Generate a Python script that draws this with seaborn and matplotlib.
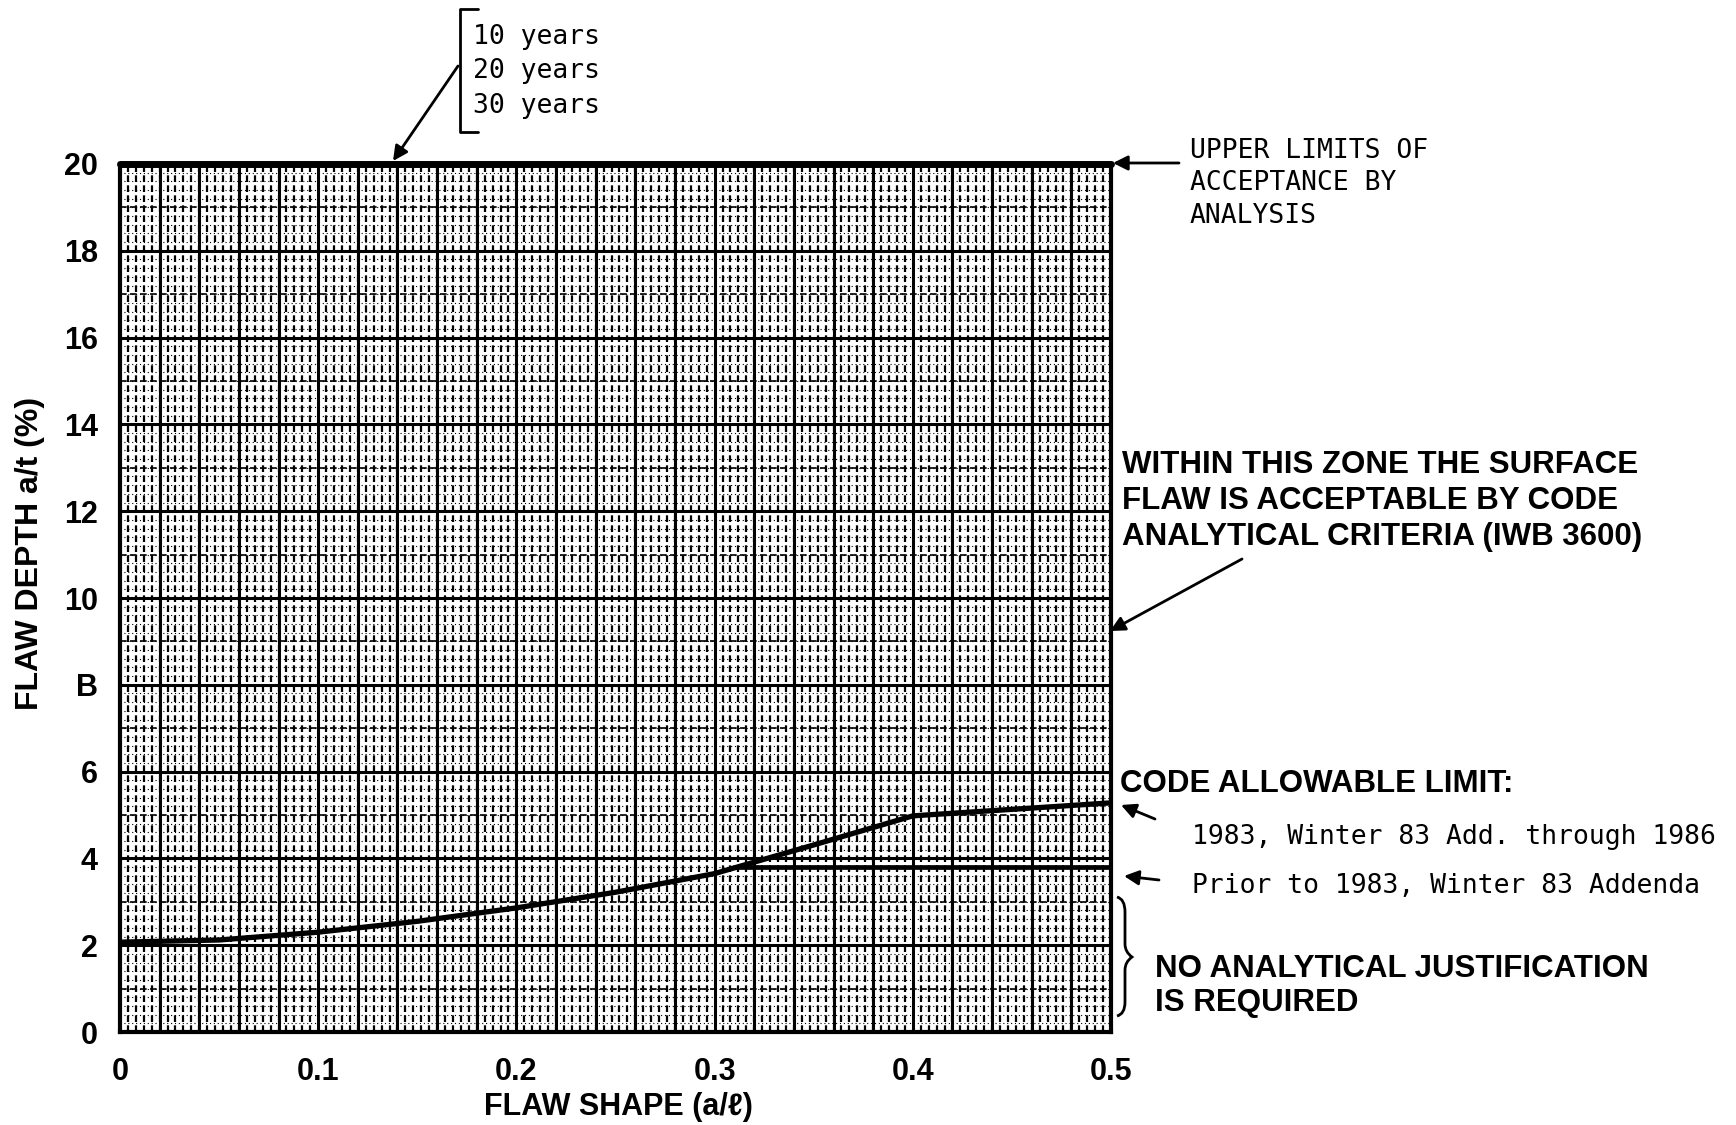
import matplotlib
matplotlib.use("Agg")
import matplotlib.pyplot as plt
from matplotlib.path import Path
from matplotlib.patches import PathPatch
import numpy as np
import seaborn as sns

# code allowable limit: 1983, Winter 83 Add. through 1986
shape_1983 = [0.0, 0.05, 0.1, 0.15, 0.2, 0.25, 0.3, 0.35, 0.4, 0.45, 0.5]
depth_1983 = [2.07, 2.12, 2.30, 2.55, 2.86, 3.22, 3.65, 4.31, 4.98, 5.13, 5.28]
# prior to 1983, Winter 83 Addenda (flat part)
shape_prior = [0.31, 0.5]
depth_prior = [3.8, 3.8]
# upper limit of acceptance by analysis
shape_upper = [0.0, 0.5]
depth_upper = [20, 20]

x_ticks = [0, 0.1, 0.2, 0.3, 0.4, 0.5]
x_ticklabels = ["0", "0.1", "0.2", "0.3", "0.4", "0.5"]
y_ticks = [0, 2, 4, 6, 8, 10, 12, 14, 16, 18, 20]
y_ticklabels = ["0", "2", "4", "6", "B", "10", "12", "14", "16", "18", "20"]

years = ["10 years", "20 years", "30 years"]
upper_txt = ["UPPER LIMITS OF", "ACCEPTANCE BY", "ANALYSIS"]
zone_txt = ["WITHIN THIS ZONE THE SURFACE", "FLAW IS ACCEPTABLE BY CODE",
            "ANALYTICAL CRITERIA (IWB 3600)"]
noanal_txt = ["NO ANALYTICAL JUSTIFICATION", "IS REQUIRED"]

W, H = 1736, 1125


def fp(x, y):
    # pixel position in the full picture -> figure fraction
    return x / W, 1 - y / H


sns.set_theme(style="white")
plt.rcParams['font.family'] = ['Liberation Sans', 'DejaVu Sans']
plt.rcParams['text.color'] = 'black'
plt.rcParams['xtick.color'] = 'black'
plt.rcParams['ytick.color'] = 'black'
BOLD = ['Liberation Sans', 'DejaVu Sans']
MONO = ['DejaVu Sans Mono']

fig = plt.figure(figsize=(W / 100, H / 100), dpi=100)
ax = fig.add_axes([120 / W, 1 - 1032 / H, 991 / W, 868 / H])

# graph paper
ax.set_xticks(np.arange(0, 0.5001, 0.004), minor=True)
ax.set_yticks(np.arange(0, 20.001, 0.2), minor=True)
ax.grid(which='minor', axis='x', color='black', lw=1.6, ls=(0, (3, 1.5)), zorder=0)
ax.grid(which='minor', axis='y', color='black', lw=0.8, ls=(0, (1, 2.5)), zorder=0)
ax.grid(which='major', visible=False)
for v in np.arange(0.02, 0.5, 0.02):
    ax.axvline(v, color='black', lw=2.2, zorder=1)
for h in range(1, 20, 2):
    ax.axhline(h, color='black', lw=1.2, ls=(0, (4, 2)), zorder=1)
for h in range(2, 20, 2):
    ax.axhline(h, color='black', lw=2.2, zorder=1)

sns.lineplot(x=shape_1983, y=depth_1983, color='black', lw=3.8, ax=ax, zorder=3)
sns.lineplot(x=shape_prior, y=depth_prior, color='black', lw=3.4, ax=ax, zorder=3)
ax.plot(shape_upper, depth_upper, color='black', lw=5, zorder=3, clip_on=False)

ax.set_xlim(0, 0.5)
ax.set_ylim(0, 20)
ax.set_xticks(x_ticks)
ax.set_xticklabels(x_ticklabels, fontsize=22, fontweight='bold')
ax.set_yticks(y_ticks)
ax.set_yticklabels(y_ticklabels, fontsize=22, fontweight='bold')
ax.tick_params(which='both', length=0)
ax.tick_params(axis='x', pad=18)
ax.tick_params(axis='y', pad=16)
for s in ax.spines.values():
    s.set_color('black')
    s.set_linewidth(3)

fig.text(*fp(618, 1107), "FLAW SHAPE (a/ℓ)", ha='center', va='center',
         fontsize=22, fontweight='bold', family=['Liberation Sans', 'DejaVu Sans'])
fig.text(*fp(30, 553), "FLAW DEPTH a/t (%)", ha='center', va='center', rotation=90,
         fontsize=23, fontweight='bold')

arrow = dict(arrowstyle='-|>', color='black', lw=2, mutation_scale=22, shrinkA=0, shrinkB=0)

# 10/20/30 years bracket
for i, t in enumerate(years):
    fig.text(*fp(473, 37 + 34.5 * i), t, ha='left', va='center', fontsize=19, family=MONO)
fig.add_artist(plt.Line2D(*zip(fp(478, 9), fp(460, 9), fp(460, 132), fp(478, 132)),
                          color='black', lw=2, transform=fig.transFigure))
ax.annotate("", xy=fp(393, 161), xytext=fp(458, 66), xycoords='figure fraction',
            textcoords='figure fraction', arrowprops=arrow)

# upper limit
for i, t in enumerate(upper_txt):
    fig.text(*fp(1190, 151 + 32.5 * i), t, ha='left', va='center', fontsize=19, family=MONO)
ax.annotate("", xy=fp(1113, 163), xytext=fp(1179, 163), xycoords='figure fraction',
            textcoords='figure fraction', arrowprops=arrow)

# acceptable zone
for i, t in enumerate(zone_txt):
    fig.text(*fp(1122, 465 + 36 * i), t, ha='left', va='center', fontsize=22.5,
             fontweight='bold', family=BOLD)
ax.annotate("", xy=fp(1110, 631), xytext=fp(1242, 559), xycoords='figure fraction',
            textcoords='figure fraction', arrowprops=arrow)

# code allowable limit
fig.text(*fp(1120, 784), "CODE ALLOWABLE LIMIT:", ha='left', va='center', fontsize=22.5,
         fontweight='bold', family=BOLD)
fig.text(*fp(1192, 837), "1983, Winter 83 Add. through 1986", ha='left', va='center',
         fontsize=19, family=MONO)
fig.text(*fp(1192, 886), "Prior to 1983, Winter 83 Addenda", ha='left', va='center',
         fontsize=19, family=MONO)
ax.annotate("", xy=fp(1121, 805), xytext=fp(1155, 819), xycoords='figure fraction',
            textcoords='figure fraction', arrowprops=arrow)
ax.annotate("", xy=fp(1124, 876), xytext=fp(1159, 880), xycoords='figure fraction',
            textcoords='figure fraction', arrowprops=arrow)

# brace + no justification
bp = [(1117, 897), (1125, 899), (1125, 912), (1125, 944), (1125, 952), (1132, 957),
      (1125, 962), (1125, 970), (1125, 1002), (1125, 1014), (1117, 1016)]
codes = [Path.MOVETO, Path.CURVE3, Path.CURVE3, Path.LINETO, Path.CURVE3, Path.CURVE3,
         Path.CURVE3, Path.CURVE3, Path.LINETO, Path.CURVE3, Path.CURVE3]
brace = PathPatch(Path([fp(*p) for p in bp], codes), fill=False, lw=2, color='black',
                  transform=fig.transFigure)
fig.add_artist(brace)
for i, t in enumerate(noanal_txt):
    fig.text(*fp(1155, 969 + 34 * i), t, ha='left', va='center', fontsize=22.5,
             fontweight='bold', family=BOLD)

fig.savefig("out.png", dpi=100)
